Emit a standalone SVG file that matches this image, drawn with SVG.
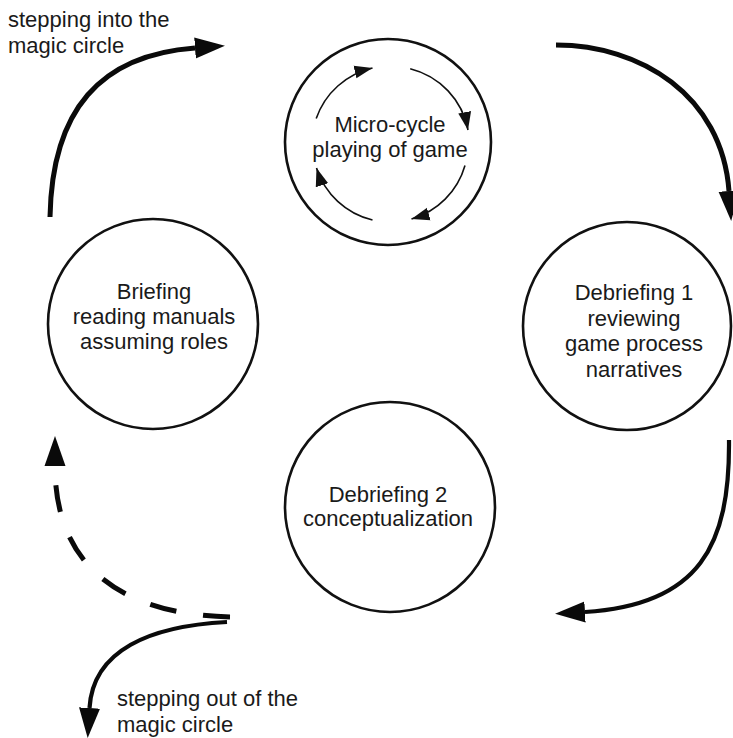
<svg xmlns="http://www.w3.org/2000/svg" width="733" height="738" viewBox="0 0 733 738">
  <defs>
    <style>
      .node circle { fill: #fff; stroke: #111; stroke-width: 2.6; }
      text { font-family: "Liberation Sans", Arial, sans-serif; font-size: 22px; fill: #1a1a1a; }
      .mid { text-anchor: middle; }
      .flow { fill: none; stroke: #0a0a0a; stroke-linecap: butt; }
      .thick { stroke-width: 5; }
      .medium { stroke-width: 4.2; }
      .dash { stroke-dasharray: 27 27; }
      .loop { fill: none; stroke: #111; stroke-width: 1.6; marker-end: url(#smallHead); }
    </style>
    <!-- large filled arrowhead, base at the path end -->
    <marker id="bigHead" markerUnits="userSpaceOnUse" markerWidth="32" markerHeight="24"
            viewBox="0 -12 32 24" refX="0" refY="0" orient="auto">
      <path d="M0,-10.5 L30,0 L0,10.5 Z" fill="#0a0a0a"/>
    </marker>
    <!-- small arrowhead for the inner loop, tip at the path end -->
    <marker id="smallHead" markerUnits="userSpaceOnUse" markerWidth="20" markerHeight="16"
            viewBox="0 -8 20 16" refX="18" refY="0" orient="auto">
      <path d="M0,-6.5 L18,0 L0,6.5 Z" fill="#111"/>
    </marker>
  </defs>

  <rect width="733" height="738" fill="#fff"/>

  <!-- connectors between the phases -->
  <g id="connectors">
    <path class="flow thick" d="M50,217 C52,110 100,55 195,48" marker-end="url(#bigHead)"/>
    <path class="flow thick" d="M556,45 C640,45 722,95 729,191" marker-end="url(#bigHead)"/>
    <path class="flow medium" d="M729,440 C730,545 700,605 585,612" marker-end="url(#bigHead)"/>
    <path class="flow thick dash" d="M230,617 C140,615 55,580 55,466" marker-end="url(#bigHead)"/>
    <path class="flow medium" d="M227,622 C150,626 93,650 89.5,708" marker-end="url(#bigHead)"/>
  </g>

  <!-- phase: playing the game, with its inner cycle -->
  <g id="micro-cycle" class="node">
    <circle cx="388" cy="142" r="103"/>
    <path class="loop" d="M316.2,118.6 A78,78 0 0 1 372.5,68"/>
    <path class="loop" d="M410.2,68.7 A78,78 0 0 1 468,130"/>
    <path class="loop" d="M465,165.5 A78,78 0 0 1 411.5,219"/>
    <path class="loop" d="M372.5,220 A78,78 0 0 1 316.5,168"/>
    <text class="mid" x="390" y="132">Micro-cycle</text>
    <text class="mid" x="390" y="157">playing of game</text>
  </g>

  <g id="briefing" class="node">
    <circle cx="153" cy="324" r="105"/>
    <text class="mid" x="154" y="299">Briefing</text>
    <text class="mid" x="154" y="324">reading manuals</text>
    <text class="mid" x="154" y="349">assuming roles</text>
  </g>

  <g id="debriefing-1" class="node">
    <circle cx="627" cy="326" r="104"/>
    <text class="mid" x="634" y="300">Debriefing 1</text>
    <text class="mid" x="634" y="326">reviewing</text>
    <text class="mid" x="634" y="351">game process</text>
    <text class="mid" x="634" y="377">narratives</text>
  </g>

  <g id="debriefing-2" class="node">
    <circle cx="390" cy="507" r="105"/>
    <text class="mid" x="388" y="502">Debriefing 2</text>
    <text class="mid" x="388" y="526">conceptualization</text>
  </g>

  <!-- captions at the entry and exit -->
  <g id="label-in">
    <text x="8" y="27">stepping into the</text>
    <text x="8" y="53">magic circle</text>
  </g>
  <g id="label-out">
    <text x="117" y="706">stepping out of the</text>
    <text x="117" y="732">magic circle</text>
  </g>
</svg>
